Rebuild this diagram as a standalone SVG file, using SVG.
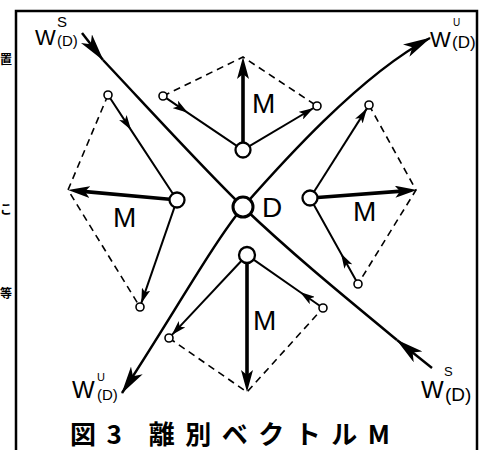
<svg xmlns="http://www.w3.org/2000/svg" width="490" height="450" viewBox="0 0 490 450">
<style>
.frame{fill:none;stroke:#000;stroke-width:2.5}
.w{fill:none;stroke:#000;stroke-width:2.5}
.v{fill:none;stroke:#000;stroke-width:2}
.m{fill:none;stroke:#000;stroke-width:3.6}
.dash{fill:none;stroke:#000;stroke-width:1.6;stroke-dasharray:7 5}
.big{fill:#fff;stroke:#000;stroke-width:2.3}
.sm{fill:#fff;stroke:#000;stroke-width:1.6}
.lab{font-family:"Liberation Sans",Arial,sans-serif;fill:#000}
.cap{font-family:"Noto Sans CJK JP","Noto Sans CJK SC",sans-serif;fill:#000}
</style>
<defs>
<marker id="ahBig" markerUnits="userSpaceOnUse" viewBox="0 0 28 14" refX="27" refY="7" markerWidth="28" markerHeight="14" orient="auto-start-reverse"><path d="M0,0 L28,7 L0,14 L7,7 z" fill="#000"/></marker>
<marker id="ahSm" markerUnits="userSpaceOnUse" viewBox="0 0 15 9" refX="15" refY="4.5" markerWidth="15" markerHeight="9" orient="auto"><path d="M0,0 L15,4.5 L0,9 L3.5,4.5 z" fill="#000"/></marker>
<marker id="ahM" markerUnits="userSpaceOnUse" viewBox="0 0 22 12" refX="10" refY="6" markerWidth="22" markerHeight="12" orient="auto"><path d="M0,0 L22,6 L0,12 L5,6 z" fill="#000"/></marker>
</defs>

<g id="margin-fragments" class="cap" font-size="12" font-weight="bold">
<text x="0" y="64">置</text>
<text x="0" y="214">こ</text>
<text x="0" y="298">等</text>
</g>

<rect class="frame" x="16" y="11" width="461" height="460"/>

<g id="connectors">
<!-- W^U curve (outgoing) -->
<path class="w" d="M122,393 C170,320 215,240 243,207 C280,165 360,75 430,38" marker-start="url(#ahBig)" marker-end="url(#ahBig)"/>
<!-- W^S curve (incoming) -->
<path class="w" d="M82,33 L103,60" marker-end="url(#ahBig)"/>
<path class="w" d="M103,60 C150,110 200,165 243,207 C290,252 340,293 397,340"/>
<path class="w" d="M432,368 L397,340" marker-end="url(#ahBig)"/>

<!-- top diamond -->
<path class="dash" d="M163,96 L243,57 L317,106"/>
<path class="v" d="M166.3,98.2 L187.9,112.8 L236.8,145.8" marker-mid="url(#ahSm)"/>
<path class="v" d="M249.4,146.2 L313.6,108" marker-end="url(#ahSm)"/>
<path class="m" d="M243,142.5 L243,69" marker-end="url(#ahM)"/>

<!-- left diamond -->
<path class="dash" d="M108,95 L68,190 L140,307"/>
<path class="v" d="M110.2,98.3 L131.1,130.1 L172.9,193.7" marker-mid="url(#ahSm)"/>
<path class="v" d="M174.5,207.1 L141.3,303.2" marker-end="url(#ahSm)"/>
<path class="m" d="M169.5,199.3 L80,191.1" marker-end="url(#ahM)"/>

<!-- right diamond -->
<path class="dash" d="M369,105 L416,190 L358,284"/>
<path class="v" d="M314,191.7 L366.9,108.4" marker-end="url(#ahSm)"/>
<path class="v" d="M356.1,280.5 L341,253.4 L313.7,204.5" marker-mid="url(#ahSm)"/>
<path class="m" d="M317.5,197.5 L405,190.9" marker-end="url(#ahM)"/>

<!-- bottom diamond -->
<path class="dash" d="M169,338 L247,392 L323,308"/>
<path class="v" d="M241.5,260.8 L171.7,335.1" marker-end="url(#ahSm)"/>
<path class="v" d="M319.7,305.7 L300,292 L253.6,259.6" marker-mid="url(#ahSm)"/>
<path class="m" d="M247,263 L247,380" marker-end="url(#ahM)"/>
</g>

<g id="node-D">
<circle cx="243" cy="207" r="10" fill="#fff" stroke="#000" stroke-width="3"/>
<text class="lab" x="262" y="217" font-size="28">D</text>
</g>

<g id="node-top">
<circle class="big" cx="243" cy="150" r="7.5"/>
<circle class="sm" cx="163" cy="96" r="4"/>
<circle class="sm" cx="317" cy="106" r="4"/>
<text class="lab" x="252" y="113" font-size="28">M</text>
</g>

<g id="node-left">
<circle class="big" cx="177" cy="200" r="7.5"/>
<circle class="sm" cx="108" cy="95" r="4"/>
<circle class="sm" cx="140" cy="307" r="4"/>
<text class="lab" x="113" y="227" font-size="28">M</text>
</g>

<g id="node-right">
<circle class="big" cx="310" cy="198" r="7.5"/>
<circle class="sm" cx="369" cy="105" r="4"/>
<circle class="sm" cx="358" cy="284" r="4"/>
<text class="lab" x="353" y="221" font-size="28">M</text>
</g>

<g id="node-bottom">
<circle class="big" cx="247" cy="255" r="8"/>
<circle class="sm" cx="169" cy="338" r="4"/>
<circle class="sm" cx="323" cy="308" r="4"/>
<text class="lab" x="253" y="330" font-size="28">M</text>
</g>

<g id="label-WS-top">
<text class="lab" x="35" y="45" font-size="22">W</text>
<text class="lab" x="57" y="27" font-size="15">S</text>
<text class="lab" x="57" y="46" font-size="15">(D)</text>
</g>
<g id="label-WU-top">
<text class="lab" x="430" y="47" font-size="22">W</text>
<text class="lab" x="453" y="26" font-size="10">U</text>
<text class="lab" x="452" y="48" font-size="17">(D)</text>
</g>
<g id="label-WU-bottom">
<text class="lab" x="72" y="398" font-size="24">W</text>
<text class="lab" x="97" y="381" font-size="11">U</text>
<text class="lab" x="97" y="400" font-size="15">(D)</text>
</g>
<g id="label-WS-bottom">
<text class="lab" x="421" y="398" font-size="24">W</text>
<text class="lab" x="444" y="376" font-size="13">S</text>
<text class="lab" x="445" y="401" font-size="19">(D)</text>
</g>

<g id="caption">
<text class="cap" x="70" y="444" font-size="26" font-weight="bold" textLength="320" lengthAdjust="spacing">図3 離別ベクトルM</text>
</g>
</svg>
